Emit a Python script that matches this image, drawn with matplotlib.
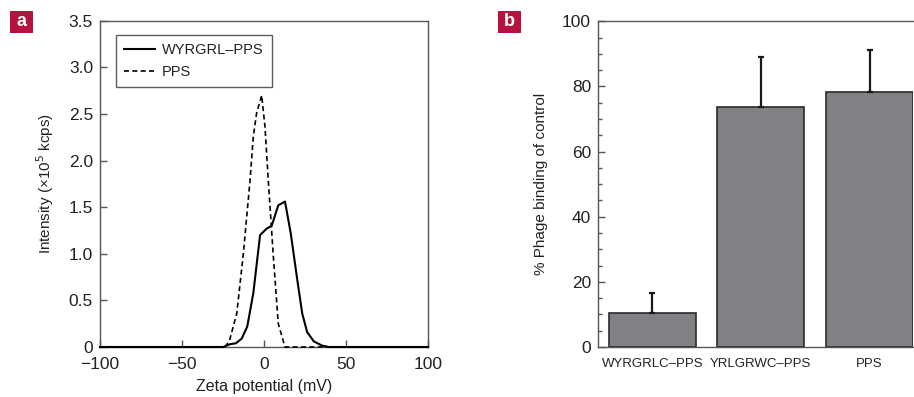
import matplotlib
matplotlib.use("Agg")
import matplotlib.pyplot as plt
from matplotlib.patches import Rectangle

plt.rcParams['font.family'] = ['Liberation Sans', 'DejaVu Sans']

# Panel a data
wyr_x = [-100, -24.8, -20.7, -17.1, -13.6, -10.2, -6.5, -2.4, 1.6, 4.7, 8.7, 12.8, 16.3, 20.3, 23.3, 26.3, 30.4, 35.4, 39.5, 100]
wyr_y = [0, 0, 0.03, 0.04, 0.09, 0.22, 0.58, 1.20, 1.27, 1.30, 1.52, 1.56, 1.22, 0.72, 0.36, 0.16, 0.06, 0.015, 0, 0]
pps_x = [-100, -24, -21.2, -16.6, -12.6, -8.5, -6.5, -4.5, -1.4, 0.6, 2.6, 5.7, 8.7, 12.8, 100]
pps_y = [0, 0, 0.06, 0.36, 1.0, 1.79, 2.26, 2.51, 2.70, 2.36, 1.79, 0.97, 0.25, 0, 0]

# Panel b data
categories = ['WYRGRLC\u2013PPS', 'YRLGRWC\u2013PPS', 'PPS']
binding = [10.5, 73.8, 78.2]
err_up = [6.0, 15.1, 13.0]

fig = plt.figure(figsize=(9.14, 3.97), dpi=100)
tc = '#222222'
sc = '#555555'

axa = fig.add_axes([100/914, 50/397, 328/914, 326.3/397])
axa.plot(wyr_x, wyr_y, color='black', lw=1.5, clip_on=False, label='WYRGRL\u2013PPS', zorder=3)
axa.plot(pps_x, pps_y, color='black', lw=1.2, ls=(0, (3, 2)), clip_on=False, label='PPS', zorder=3)
axa.set_xlim(-100, 100)
axa.set_ylim(0, 3.5)
axa.set_xticks([-100, -50, 0, 50, 100])
axa.set_xticklabels(['\u2212100', '\u221250', '0', '50', '100'])
axa.set_yticks([0, 0.5, 1.0, 1.5, 2.0, 2.5, 3.0, 3.5])
axa.set_yticklabels(['0', '0.5', '1.0', '1.5', '2.0', '2.5', '3.0', '3.5'])
axa.tick_params(direction='in', length=5, width=1, colors=sc, labelcolor=tc, labelsize=12.5)
axa.tick_params(axis='x', pad=7)
axa.tick_params(axis='y', pad=5)
for s in axa.spines.values():
    s.set_color(sc)
    s.set_linewidth(1)
axa.set_xlabel('Zeta potential (mV)', fontsize=11.5, color=tc, labelpad=5)
axa.set_ylabel('Intensity (\u00d710$^5$ kcps)', fontsize=11, color=tc, labelpad=9)
leg = axa.legend(loc='upper left', bbox_to_anchor=(0.049, 0.957), borderaxespad=0, fontsize=10.5,
                 frameon=True, fancybox=False, edgecolor='#333333', handlelength=2.1, borderpad=0.55,
                 labelspacing=0.55, handletextpad=0.5)
leg.get_frame().set_linewidth(1)
for t in leg.get_texts():
    t.set_color(tc)

axb = fig.add_axes([598/914, 50/397, 315/914, 325.7/397])
xpos = list(range(len(categories)))
axb.bar(xpos, binding, width=0.8, color='#808184', edgecolor='#2a2a2a', linewidth=1.2, zorder=2)
axb.errorbar(xpos, binding, yerr=[[0]*len(err_up), err_up], fmt='none', ecolor='#1a1a1a',
             elinewidth=1.6, capsize=2.5, capthick=1.6, zorder=3)
axb.set_xlim(-0.5, 2.4)
axb.set_ylim(0, 100)
axb.set_xticks(xpos)
axb.set_xticklabels(categories)
axb.set_yticks([0, 20, 40, 60, 80, 100])
axb.set_yticks(list(range(0, 101, 5)), minor=True)
axb.tick_params(axis='y', which='major', direction='in', length=5, width=1, colors=sc, labelcolor=tc, labelsize=12.5, pad=5)
axb.tick_params(axis='y', which='minor', direction='in', length=3, width=1, colors=sc)
axb.tick_params(axis='x', length=0, labelcolor=tc, labelsize=9.5, pad=8)
for s in axb.spines.values():
    s.set_color(sc)
    s.set_linewidth(1)
axb.spines['right'].set_visible(False)
axb.set_ylabel('% Phage binding of control', fontsize=11, color=tc, labelpad=10)

crim = '#B5123E'
for x0, lab in [(10, 'a'), (498, 'b')]:
    fig.patches.append(Rectangle((x0/914, (397-33)/397), 23/914, 22/397, transform=fig.transFigure,
                                 facecolor=crim, edgecolor='none'))
    fig.text((x0+11.5)/914, (397-22)/397, lab, color='white', fontsize=13, fontweight='bold',
             ha='center', va='center')

fig.savefig('out.png', dpi=100)
